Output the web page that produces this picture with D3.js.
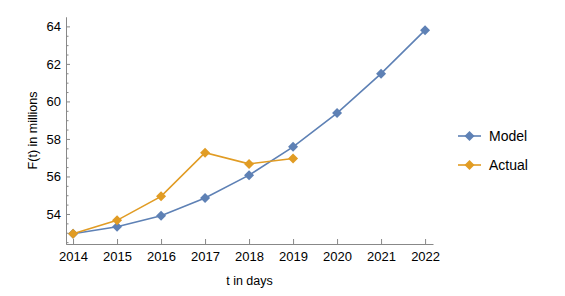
<!DOCTYPE html>
<html>
<head>
<meta charset="utf-8">
<script src="https://cdn.jsdelivr.net/npm/d3@7"></script>
<style>
  body { margin: 0; background: #fff; }
  svg { font-family: "Liberation Sans", Arial, sans-serif; }
  .axis path, .axis line { stroke: #888; }
  .axis text { fill: #000; font-size: 13px; }
</style>
</head>
<body>
<div id="graph"></div>
<script>
var years = [2014, 2015, 2016, 2017, 2018, 2019, 2020, 2021, 2022];
var model = [52.95, 53.32, 53.9, 54.85, 56.07, 57.58, 59.38, 61.48, 63.8];
var actualYears = [2014, 2015, 2016, 2017, 2018, 2019];
var actual = [52.95, 53.66, 54.94, 57.27, 56.67, 56.96];
var yTicks = [54, 56, 58, 60, 62, 64];
var seriesNames = ["Model", "Actual"];
var colors = ["#5e81b5", "#e19c24"];

var width = 565, height = 296;
var margin = {top: 17, left: 66, right: 132, bottom: 52};

var x = d3.scaleLinear().domain([2013.84, 2022.18]).range([margin.left, width - margin.right]);
var y = d3.scaleLinear().domain([52.4, 64.5]).range([height - margin.bottom, margin.top]);

var svg = d3.select("#graph").append("svg")
    .attr("width", width)
    .attr("height", height);

// x axis, ticks point up into the plot
svg.append("g")
    .attr("class", "axis")
    .attr("transform", "translate(0," + y.range()[0] + ")")
    .call(d3.axisBottom(x).tickValues(years).tickFormat(d3.format("d")).tickSizeInner(-5).tickSizeOuter(0).tickPadding(8));

// y minor ticks
var minor = d3.range(52.5, 64.5, 0.5).filter(function(v) { return yTicks.indexOf(v) < 0; });
svg.append("g")
    .attr("class", "axis")
    .attr("transform", "translate(" + x.range()[0] + ",0)")
    .call(d3.axisLeft(y).tickValues(minor).tickFormat("").tickSizeInner(-2.5).tickSizeOuter(0));

svg.append("g")
    .attr("class", "axis")
    .attr("transform", "translate(" + x.range()[0] + ",0)")
    .call(d3.axisLeft(y).tickValues(yTicks).tickSizeInner(-4).tickSizeOuter(0).tickPadding(5));

svg.append("text")
    .attr("transform", "translate(37," + ((y.range()[0] + y.range()[1]) / 2) + ") rotate(-90)")
    .attr("text-anchor", "middle")
    .style("font-size", "12.5px")
    .text("F(t) in millions");

svg.append("text")
    .attr("x", (x.range()[0] + x.range()[1]) / 2)
    .attr("y", 285)
    .attr("text-anchor", "middle")
    .style("font-size", "12.5px")
    .text("t in days");

var diamond = d3.symbol().type(d3.symbolSquare).size(50);

function drawSeries(xs, vals, color) {
  var pts = xs.map(function(d, i) { return [d, vals[i]]; });
  svg.append("path")
      .datum(pts)
      .attr("fill", "none")
      .attr("stroke", color)
      .attr("stroke-width", 1.6)
      .attr("d", d3.line().x(function(d) { return x(d[0]); }).y(function(d) { return y(d[1]); }));
  svg.append("g").selectAll("path")
      .data(pts)
      .enter().append("path")
      .attr("fill", color)
      .attr("transform", function(d) { return "translate(" + x(d[0]) + "," + y(d[1]) + ") rotate(45)"; })
      .attr("d", diamond);
}

drawSeries(years, model, colors[0]);
drawSeries(actualYears, actual, colors[1]);

// legend
var legend = svg.append("g").attr("transform", "translate(458,136)");
seriesNames.forEach(function(name, i) {
  var g = legend.append("g").attr("transform", "translate(0," + (i * 29) + ")");
  g.append("line").attr("x1", 0).attr("x2", 23).attr("stroke", colors[i]).attr("stroke-width", 1.6);
  g.append("path").attr("fill", colors[i]).attr("transform", "translate(11.5,0) rotate(45)").attr("d", diamond);
  g.append("text").attr("x", 31).attr("dy", "0.35em").style("font-size", "14px").text(name);
});
</script>
</body>
</html>
